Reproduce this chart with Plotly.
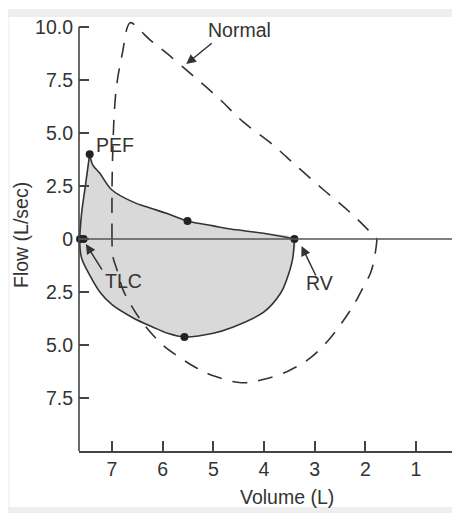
import plotly.graph_objects as go

# ---------------- data (volume in L, flow in L/sec) ----------------
# Patient loop
pt_rise_vol = [7.64, 7.60, 7.52, 7.44]
pt_rise_flow = [0.0, 1.2, 2.6, 4.0]
pt_fall_vol = [7.44, 7.38, 7.24, 7.0, 6.59, 6.25, 5.91, 5.51, 5.0, 4.66, 4.01, 3.40]
pt_fall_flow = [4.0, 3.5, 3.1, 2.31, 1.75, 1.46, 1.2, 0.85, 0.62, 0.47, 0.27, 0.0]
pt_insp_vol = [3.40, 3.44, 3.55, 3.67, 4.0, 4.66, 5.0, 5.57, 5.9, 6.2, 6.6, 7.0, 7.24, 7.44, 7.6, 7.64]
pt_insp_flow = [0.0, -1.0, -1.9, -2.55, -3.44, -4.2, -4.45, -4.62, -4.45, -4.15, -3.7, -3.1, -2.5, -1.7, -0.9, 0.0]

# Normal loop
nm_exp_vol = [7.0, 6.99, 6.92, 6.8, 6.64, 6.45, 6.25, 5.95, 5.42, 4.90, 4.41, 3.87, 3.34, 2.82, 2.29, 1.77]
nm_exp_flow = [0.0, 3.7, 7.0, 8.7, 10.2, 9.85, 9.39, 8.82, 7.74, 6.65, 5.52, 4.53, 3.40, 2.31, 1.23, 0.0]
nm_insp_vol = [1.77, 1.80, 1.89, 2.05, 2.23, 2.45, 2.72, 3.08, 3.5, 4.0, 4.45, 5.0, 5.32, 5.65, 6.0, 6.39, 6.6, 6.78, 6.9, 6.98, 7.0]
nm_insp_flow = [0.0, -0.6, -1.56, -2.31, -3.11, -3.9, -4.75, -5.6, -6.2, -6.62, -6.78, -6.45, -6.1, -5.61, -5.0, -3.96, -3.21, -2.41, -1.46, -0.85, 0.0]

# Marked points
pts_vol = [7.44, 5.51, 3.40, 5.57, 7.63, 7.56]
pts_flow = [4.0, 0.85, 0.0, -4.62, 0.0, 0.0]

# Axis ticks
y_tickvals = [10, 7.5, 5, 2.5, 0, -2.5, -5, -7.5]
y_ticktext = ["10.0", "7.5", "5.0", "2.5", "0", "2.5", "5.0", "7.5"]
x_tickvals = [7, 6, 5, 4, 3, 2, 1]
x_ticktext = ["7", "6", "5", "4", "3", "2", "1"]

# ---------------- style ----------------
FONT = "Liberation Sans, Arial, Helvetica, sans-serif"
TXT = "#333333"
LINE = "#333333"
FS = 19.5

fig = go.Figure()

# filled patient loop
fill_x = pt_rise_vol + pt_fall_vol[1:] + pt_insp_vol[1:]
fill_y = pt_rise_flow + pt_fall_flow[1:] + pt_insp_flow[1:]
fig.add_trace(go.Scatter(x=fill_x, y=fill_y, mode="lines", fill="toself",
                         fillcolor="#d9d9d9", line=dict(width=0, shape="spline"),
                         hoverinfo="skip", showlegend=False))

# normal loop (dashed)
for vx, fy in [(nm_exp_vol, nm_exp_flow), (nm_insp_vol, nm_insp_flow)]:
    fig.add_trace(go.Scatter(x=vx, y=fy, mode="lines",
                             line=dict(color=LINE, width=1.6, dash="15px,11px", shape="spline"),
                             showlegend=False, hoverinfo="skip"))

# patient outline
for vx, fy in [(pt_rise_vol, pt_rise_flow), (pt_fall_vol, pt_fall_flow), (pt_insp_vol, pt_insp_flow)]:
    fig.add_trace(go.Scatter(x=vx, y=fy, mode="lines",
                             line=dict(color=LINE, width=1.6, shape="spline"),
                             showlegend=False, hoverinfo="skip"))

# dots
fig.add_trace(go.Scatter(x=pts_vol, y=pts_flow, mode="markers",
                         marker=dict(color="#222222", size=8), showlegend=False,
                         cliponaxis=False))

# page body has an 8px margin: figure coordinates = page coordinates - 8
OFF = 8
W, H = 460 - OFF, 513 - OFF
L, R, T, B = 71, 0, 9, 62
pw, ph = W - L - R, H - T - B


def px(p):  # page x pixel -> paper x
    return (p - OFF - L) / pw


def py(q):  # page y pixel -> paper y
    return (H - B - (q - OFF)) / ph


shapes = [
    # y axis line
    dict(type="line", xref="paper", yref="y", x0=0, x1=0, y0=-10, y1=10,
         line=dict(color="#444444", width=1.6), layer="above"),
    # zero flow line
    dict(type="line", xref="paper", yref="y", x0=0, x1=1, y0=0, y1=0,
         line=dict(color="#555555", width=1.6), layer="above"),
    # frame bands
    dict(type="rect", xref="paper", yref="paper", x0=px(8), x1=px(460), y0=py(17), y1=py(9),
         fillcolor="#eeeeee", line=dict(width=0), layer="below"),
    dict(type="rect", xref="paper", yref="paper", x0=px(8), x1=px(460), y0=py(513), y1=py(507),
         fillcolor="#eeeeee", line=dict(width=0), layer="below"),
    dict(type="line", xref="paper", yref="paper", x0=px(9), x1=px(9), y0=py(507), y1=py(17),
         line=dict(color="#ececec", width=1), layer="below"),
]

tf = dict(family=FONT, size=FS, color=TXT)
lab = dict(showarrow=False, font=tf, xanchor="center", yanchor="middle")
arrow = dict(showarrow=True, arrowhead=2, arrowsize=1.3, arrowwidth=1.5,
             arrowcolor=LINE, standoff=0, text="", xref="x", yref="y")
annotations = [
    dict(text="Normal", x=4.49, y=9.88, xref="x", yref="y", **lab),
    dict(text="PEF", x=6.94, y=4.43, xref="x", yref="y", **lab),
    dict(text="TLC", x=6.78, y=-1.98, xref="x", yref="y", **lab),
    dict(text="RV", x=2.895, y=-2.08, xref="x", yref="y", **lab),
    dict(x=5.535, y=8.25, ax=27, ay=-22, **arrow),
    dict(x=7.515, y=-0.24, ax=17, ay=27, **arrow),
    dict(x=3.26, y=-0.33, ax=15, ay=31, **arrow),
    dict(text="Volume (L)", x=px(287), y=py(497), xref="paper", yref="paper", **lab),
    dict(text="Flow (L/sec)", x=px(21), y=py(235), xref="paper", yref="paper",
         textangle=-90, **lab),
    dict(text="0", x=px(465), y=py(469), xref="paper", yref="paper", **lab),
]

fig.update_layout(
    width=W, height=H,
    margin=dict(l=L, r=R, t=T, b=B),
    paper_bgcolor="white", plot_bgcolor="white",
    shapes=shapes, annotations=annotations,
    xaxis=dict(range=[7.651, 0.132], tickvals=x_tickvals, ticktext=x_ticktext,
               ticks="inside", ticklen=10, tickwidth=1.5, tickcolor="#444444",
               showline=True, linecolor="#444444", linewidth=1.6,
               showgrid=False, zeroline=False, tickfont=tf, fixedrange=True),
    yaxis=dict(range=[-10, 10.47], tickvals=y_tickvals, ticktext=y_ticktext,
               ticks="inside", ticklen=10, tickwidth=1.5, tickcolor="#444444",
               ticklabelstandoff=5,
               showline=False, showgrid=False, zeroline=False, tickfont=tf,
               fixedrange=True),
)

fig.write_html("out.html")
